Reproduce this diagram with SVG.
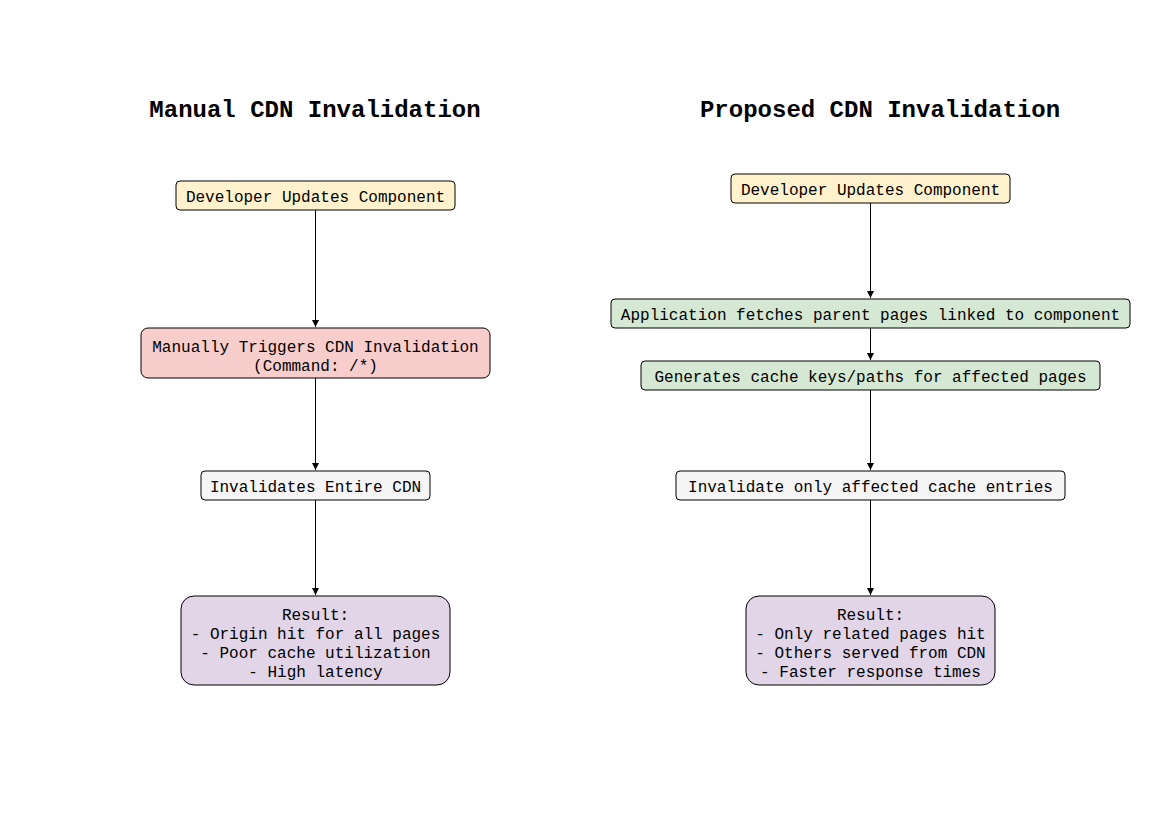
<svg xmlns="http://www.w3.org/2000/svg" width="1169" height="827" viewBox="0 0 1169 827">
<style>
.t{font-family:"Liberation Mono","Courier New",monospace;font-size:16px;fill:#000;text-anchor:middle}
.h{font-family:"Liberation Mono","Courier New",monospace;font-size:24px;font-weight:bold;fill:#000;text-anchor:middle}
.n{stroke:#000;stroke-width:1}
.e{stroke:#000;stroke-width:1;fill:none;marker-end:url(#a)}
</style>
<defs>
<marker id="a" markerWidth="8" markerHeight="8" refX="7" refY="4" orient="auto" markerUnits="userSpaceOnUse">
<path d="M0,0.5 L7,4 L0,7.5 Z" fill="#000"/>
</marker>
</defs>
<rect width="1169" height="827" fill="#fff"/>
<text class="h" x="315" y="117">Manual CDN Invalidation</text>
<text class="h" x="880" y="117">Proposed CDN Invalidation</text>
<g id="connectors">
<path class="e" d="M315.5,210 V327"/>
<path class="e" d="M315.5,378 V470"/>
<path class="e" d="M315.5,500 V595"/>
<path class="e" d="M870.5,203 V298"/>
<path class="e" d="M870.5,328 V360"/>
<path class="e" d="M870.5,390 V470"/>
<path class="e" d="M870.5,500 V595"/>
</g>
<g id="l-dev"><rect class="n" x="176" y="181" width="279" height="29" rx="4" fill="#fff2cc"/><text class="t" x="315.5" y="202">Developer Updates Component</text></g>
<g id="l-manual"><rect class="n" x="141" y="328" width="349" height="50" rx="7" fill="#f8cecc"/><text class="t" x="315.5" y="352">Manually Triggers CDN Invalidation</text><text class="t" x="315.5" y="371">(Command: /*)</text></g>
<g id="l-inval"><rect class="n" x="201" y="471" width="229" height="29" rx="4" fill="#f5f5f5"/><text class="t" x="315.5" y="492">Invalidates Entire CDN</text></g>
<g id="l-result"><rect class="n" x="181" y="596" width="269" height="89" rx="13" fill="#e1d5e7"/><text class="t" x="315.5" y="620">Result:</text><text class="t" x="315.5" y="639">- Origin hit for all pages</text><text class="t" x="315.5" y="658">- Poor cache utilization</text><text class="t" x="315.5" y="677">- High latency</text></g>
<g id="r-dev"><rect class="n" x="731" y="174" width="279" height="29" rx="4" fill="#fff2cc"/><text class="t" x="870.5" y="195">Developer Updates Component</text></g>
<g id="r-fetch"><rect class="n" x="611" y="299" width="519" height="29" rx="4" fill="#d5e8d4"/><text class="t" x="870.5" y="320">Application fetches parent pages linked to component</text></g>
<g id="r-keys"><rect class="n" x="641" y="361" width="459" height="29" rx="4" fill="#d5e8d4"/><text class="t" x="870.5" y="382">Generates cache keys/paths for affected pages</text></g>
<g id="r-inval"><rect class="n" x="676" y="471" width="389" height="29" rx="4" fill="#f5f5f5"/><text class="t" x="870.5" y="492">Invalidate only affected cache entries</text></g>
<g id="r-result"><rect class="n" x="746" y="596" width="249" height="89" rx="13" fill="#e1d5e7"/><text class="t" x="870.5" y="620">Result:</text><text class="t" x="870.5" y="639">- Only related pages hit</text><text class="t" x="870.5" y="658">- Others served from CDN</text><text class="t" x="870.5" y="677">- Faster response times</text></g>
</svg>
